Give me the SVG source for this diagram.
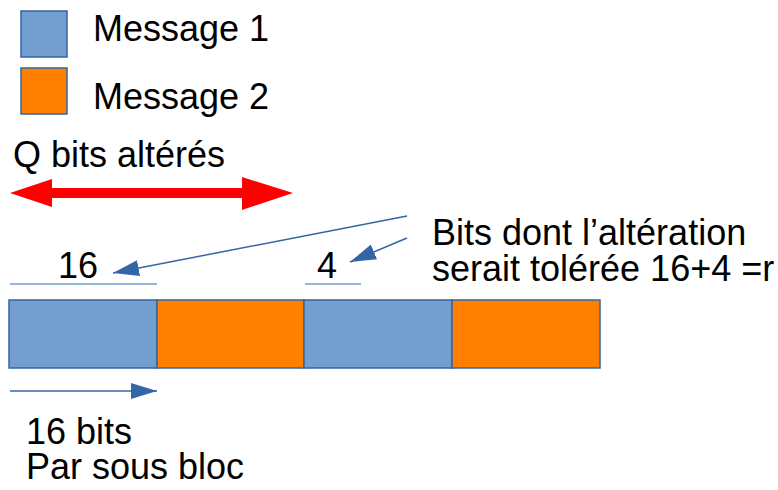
<svg xmlns="http://www.w3.org/2000/svg" width="778" height="490" viewBox="0 0 778 490">
<style>
text{font-family:"Liberation Sans",Arial,sans-serif;font-size:36px;fill:#000}
.m1{fill:#729fcf;stroke:#3465a4;stroke-width:1.5}
.m2{fill:#ff8000;stroke:#3465a4;stroke-width:1.5}
.thin{stroke:#3465a4;stroke-width:1.5;fill:none}
.ul{stroke:#729fcf;stroke-width:1.5;fill:none}
</style>
<defs>
<marker id="ah" viewBox="0 0 26 16" refX="26" refY="8" markerWidth="26" markerHeight="16" markerUnits="userSpaceOnUse" orient="auto">
<path d="M0,0 L26,8 L0,16 z" fill="#3465a4"/>
</marker>
</defs>
<rect width="778" height="490" fill="#fff"/>
<g id="legend1"><rect class="m1" x="21" y="11" width="46" height="46"/><text x="93" y="41">Message 1</text></g>
<g id="legend2"><rect class="m2" x="21" y="68" width="46" height="46"/><text x="93" y="109">Message 2</text></g>
<g id="q-label"><text x="13" y="167">Q bits altérés</text></g>
<g id="note"><text x="432" y="245">Bits dont l’altération</text><text x="432" y="281">serait tolérée 16+4 =r</text></g>
<g id="label16"><text x="58" y="278">16</text></g>
<g id="label4"><text x="317" y="278">4</text></g>
<g id="bar">
<rect class="m1" x="9" y="300" width="148" height="68"/>
<rect class="m2" x="157" y="300" width="147" height="68"/>
<rect class="m1" x="304" y="300" width="148" height="68"/>
<rect class="m2" x="452" y="300" width="148" height="68"/>
</g>
<g id="bottom-label"><text x="26" y="444">16 bits</text><text x="26" y="479">Par sous bloc</text></g>
<g id="connectors">
<polygon points="10,193 52,179 52,188 242,188 242,177 293,193 242,210 242,198 52,198 52,207" fill="#ff0000"/>
<line class="thin" x1="407" y1="216" x2="113" y2="273" marker-end="url(#ah)"/>
<line class="thin" x1="407" y1="238" x2="350" y2="262" marker-end="url(#ah)"/>
<line class="ul" x1="10" y1="284" x2="157" y2="284"/>
<line class="ul" x1="305" y1="284" x2="361" y2="284"/>
<line class="thin" x1="10" y1="391" x2="157" y2="391" marker-end="url(#ah)"/>
</g>
</svg>
